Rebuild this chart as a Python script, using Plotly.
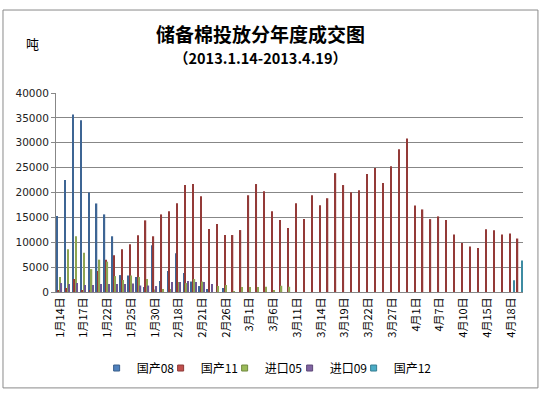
import plotly.graph_objects as go

dates = ["1月14日","1月15日","1月16日","1月17日","1月18日","1月21日","1月22日","1月23日","1月24日","1月25日",
         "1月28日","1月29日","1月30日","1月31日","2月1日","2月18日","2月19日","2月20日","2月21日","2月22日",
         "2月25日","2月26日","2月27日","2月28日","3月1日","3月4日","3月5日","3月6日","3月7日","3月8日",
         "3月11日","3月12日","3月13日","3月14日","3月15日","3月18日","3月19日","3月20日","3月21日","3月22日",
         "3月25日","3月26日","3月27日","3月28日","3月29日","4月1日","4月2日","4月3日","4月7日","4月8日",
         "4月9日","4月10日","4月11日","4月12日","4月15日","4月16日","4月17日","4月18日","4月19日"]

tick_labels = ["1月14日","1月17日","1月22日","1月25日","1月30日","2月18日","2月21日","2月26日","3月1日","3月6日",
               "3月11日","3月14日","3月19日","3月22日","3月27日","4月1日","4月7日","4月10日","4月15日","4月18日"]

guochan08 = [15300,22500,35700,34500,20000,17800,15600,11200,3400,3300,
             3000,1000,9400,2200,4200,7800,3800,2100,1200,600,
             0,800,0,0,0,0,0,0,0,0,
             0,0,0,0,0,0,0,0,0,0,
             0,0,0,0,0,0,0,0,0,0,
             0,0,0,0,0,0,0,0,0]
guochan11 = [400,800,2600,300,300,4200,6500,7400,8600,9600,
             11400,14400,11200,15600,16250,17850,21500,21700,19250,12650,
             13650,11450,11450,12450,19450,21700,20250,16250,14450,12850,
             17850,14650,19450,17450,18850,23900,21500,20050,20450,23700,
             24900,21900,25300,28700,30850,17400,16600,14650,15200,14450,
             11550,9850,9150,8850,12600,12400,11550,11750,10750]
jinkou05 = [3000,8600,11200,7900,4600,6500,6100,3200,2400,3300,
            3000,2600,500,600,600,2000,1800,2600,2100,0,
            1200,1400,200,1000,1000,1000,1050,250,1250,1050,
            0,0,0,0,0,0,0,0,0,0,
            0,0,0,0,0,0,0,0,0,0,
            0,0,0,0,0,0,0,0,0]
jinkou09 = [1800,1600,1800,1400,1400,1600,1600,1600,1600,1700,
            1300,1300,1200,0,2000,2000,2200,2000,2000,1600,
            0,0,0,0,0,0,0,0,0,0,
            0,0,0,0,0,0,0,0,0,0,
            0,0,0,0,0,0,0,0,0,0,
            0,0,0,0,0,0,0,0,0]
guochan12 = [0,0,0,0,0,0,0,0,0,0,
             0,0,0,0,0,0,0,0,0,0,
             0,0,0,0,0,0,0,0,0,0,
             0,0,0,0,0,0,0,0,0,0,
             0,0,0,0,0,0,0,0,0,0,
             0,0,0,0,0,0,0,2350,6350]

series_names = ["国产08", "国产11", "进口05", "进口09", "国产12"]
series_values = [guochan08, guochan11, jinkou05, jinkou09, guochan12]
bar_colors = ["#3E6594", "#933A38", "#8EA551", "#6C5793", "#3D8BA2"]
legend_colors = ["#4F81BD", "#C0504D", "#9BBB59", "#8064A2", "#4BACC6"]
legend_lines = ["#385D8A", "#8C3836", "#71893F", "#5C4776", "#357D91"]
legend_widths = [19, 19, 20, 19, 45]

fig = go.Figure()
for name, vals, col in zip(series_names, series_values, bar_colors):
    fig.add_trace(go.Bar(x=dates, y=vals, name=name, marker=dict(color=col, line=dict(width=0)),
                         showlegend=False))
for name, col, lc, lw in zip(series_names, legend_colors, legend_lines, legend_widths):
    fig.add_trace(go.Scatter(x=[None], y=[None], mode="markers", name=name, legendwidth=lw,
                             marker=dict(symbol="square", size=6, color=col, line=dict(color=lc, width=1))))

fig.update_layout(
    width=542, height=394,
    margin=dict(l=56, r=19, t=93, b=102, autoexpand=False),
    paper_bgcolor="white", plot_bgcolor="white",
    barmode="group", bargap=0.08, bargroupgap=0.1,
    font=dict(family="Noto Sans CJK SC, DejaVu Sans", color="#000000"),
    showlegend=True,
    legend=dict(orientation="h", x=0.087, xanchor="left", y=-0.382, yanchor="middle",
                font=dict(size=12, family="Noto Sans CJK SC"),
                itemwidth=30, bgcolor="rgba(0,0,0,0)"),
)
fig.update_xaxes(
    type="category", categoryorder="array", categoryarray=dates,
    tickmode="array", tickvals=tick_labels, ticktext=tick_labels,
    tickangle=-90, tickfont=dict(size=11, family="Noto Sans CJK SC", color="#000000"),
    showline=True, linecolor="#878787", linewidth=1, ticks="", showgrid=False,
    range=[-0.5, len(dates) - 0.5], automargin=False,
)
fig.update_yaxes(
    range=[0, 40000], dtick=5000, tickformat="d",
    showgrid=True, gridcolor="#878787", gridwidth=1,
    showline=True, linecolor="#878787", linewidth=1,
    ticks="outside", ticklen=4, tickcolor="#878787",
    tickfont=dict(size=10.5, family="DejaVu Sans", color="#222222"),
    zeroline=False, automargin=False,
)
# chart border
fig.add_shape(type="rect", xref="paper", yref="paper", x0=-0.1135, x1=1.032, y0=-0.482, y1=1.417,
              line=dict(color="#8A8A8A", width=1), layer="below")
fig.add_annotation(text="<b>储备棉投放分年度成交图</b>", xref="paper", yref="paper", x=0.437, y=1.299,
                   showarrow=False, font=dict(size=19, family="Noto Sans CJK SC", color="#000000"),
                   xanchor="center", yanchor="middle")
fig.add_annotation(text="<b>（2013.1.14-2013.4.19）</b>", xref="paper", yref="paper", x=0.437, y=1.176,
                   showarrow=False, font=dict(size=14.5, family="Noto Sans CJK SC", color="#000000"),
                   xanchor="center", yanchor="middle")
fig.add_annotation(text="吨", xref="paper", yref="paper", x=-0.05, y=1.25,
                   showarrow=False, font=dict(size=13, family="Noto Sans CJK SC", color="#000000"),
                   xanchor="center", yanchor="middle")

fig.write_html("out.html", config={"displayModeBar": False},
               post_script="document.body.style.margin='0px';document.body.style.overflow='hidden';")
